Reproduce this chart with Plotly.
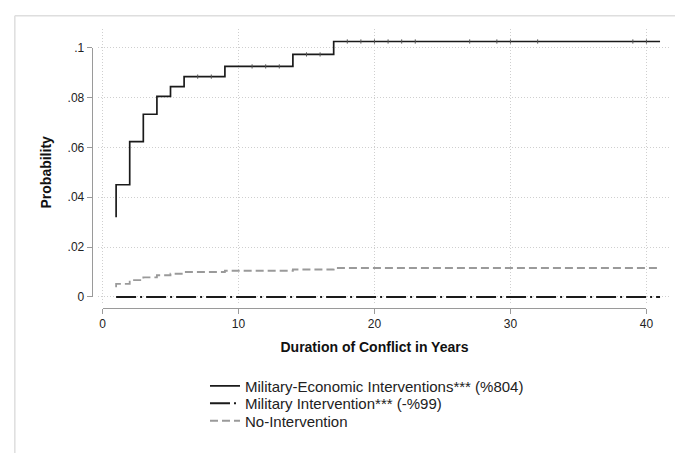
import plotly.graph_objects as go

# ---- data ----
years_me = [1, 1, 2, 2, 3, 4, 5, 6, 9, 14, 17, 41]
prob_me = [0.032, 0.045, 0.0554, 0.0623, 0.0733, 0.0805, 0.0844, 0.0884, 0.0925, 0.0973, 0.1025, 0.1025]

tick_years_me = [7, 8, 11, 12, 13, 15, 16, 18, 19, 20, 21, 22, 23, 27, 29, 30, 32, 39, 40]
tick_probs_me = [0.0884, 0.0884, 0.0925, 0.0925, 0.0925, 0.0973, 0.0973,
                 0.1025, 0.1025, 0.1025, 0.1025, 0.1025, 0.1025, 0.1025,
                 0.1025, 0.1025, 0.1025, 0.1025, 0.1025]

years_mi = [1, 41]
prob_mi = [0, 0]

years_no = [1, 1, 2, 3, 4, 5, 6, 9, 14, 17, 41]
prob_no = [0.0039, 0.0052, 0.0067, 0.0078, 0.0087, 0.0093, 0.0100, 0.0105, 0.0110, 0.0116, 0.0116]

names = ["Military-Economic Interventions*** (%804)",
         "Military Intervention*** (-%99)",
         "No-Intervention"]

x_ticks = [0, 10, 20, 30, 40]
y_ticks = [0, 0.02, 0.04, 0.06, 0.08, 0.1]
y_tick_text = ["0", ".02", ".04", ".06", ".08", ".1"]

FONT = "Liberation Sans, Arial, Helvetica, sans-serif"
W, H = 682, 460

fig = go.Figure()

fig.add_trace(go.Scatter(
    x=years_me, y=prob_me, mode="lines", line_shape="hv",
    line=dict(color="#1a1a1a", width=1.7), name=names[0], legend="legend"))
fig.add_trace(go.Scatter(
    x=years_mi, y=prob_mi, mode="lines",
    line=dict(color="#1a1a1a", width=2, dash="20px,4px,2px,4px"), name=names[1],
    legend="legend2"))
fig.add_trace(go.Scatter(
    x=years_no, y=prob_no, mode="lines", line_shape="hv",
    line=dict(color="#9a9a9a", width=1.8, dash="8px,4px"), name=names[2],
    legend="legend3"))
fig.add_trace(go.Scatter(
    x=tick_years_me, y=tick_probs_me, mode="markers", showlegend=False,
    hoverinfo="skip",
    marker=dict(symbol="line-ns", size=3, line=dict(color="#555555", width=1))))

# invisible trace so the decorative axes are drawn
fig.add_trace(go.Scatter(x=[0], y=[0], xaxis="x2", yaxis="y2", mode="markers",
                         marker=dict(opacity=0), showlegend=False, hoverinfo="skip"))

grid = dict(showgrid=True, gridcolor="#cfcfcf", gridwidth=1, griddash="1px,2px",
            zeroline=False, showline=False, ticks="", showticklabels=False)

legend_common = dict(x=205 / W, xanchor="left", yanchor="middle",
                     font=dict(size=15, color="#222222"), bgcolor="rgba(0,0,0,0)")

fig.update_layout(
    width=W, height=H,
    margin=dict(l=0, r=0, t=0, b=0),
    paper_bgcolor="white", plot_bgcolor="rgba(0,0,0,0)",
    font=dict(family=FONT, color="#222222", size=12),
    xaxis=dict(domain=[96 / W, 678 / W], range=[-0.362, 41.81],
               tickvals=x_ticks, anchor="y", **grid),
    yaxis=dict(domain=[(H - 305) / H, (H - 23) / H], range=[-0.00233, 0.10739],
               tickvals=y_ticks, anchor="x", **grid),
    xaxis2=dict(domain=[101 / W, 653 / W], range=[0, 40], anchor="free",
                position=(H - 310) / H, showgrid=False, zeroline=False,
                showline=True, linecolor="#9a9a9a", linewidth=1,
                ticks="outside", ticklen=5, tickcolor="#9a9a9a", tickwidth=1,
                tickvals=x_ticks, tickfont=dict(size=12, color="#222222"),
                title=dict(text="<b>Duration of Conflict in Years</b>",
                           font=dict(size=14, color="#111111"), standoff=12)),
    yaxis2=dict(domain=[(H - 299) / H, (H - 42) / H], range=[0, 0.1], anchor="free",
                position=90 / W, showgrid=False, zeroline=False,
                showline=True, linecolor="#9a9a9a", linewidth=1,
                ticks="outside", ticklen=5, tickcolor="#9a9a9a", tickwidth=1,
                tickvals=y_ticks, ticktext=y_tick_text,
                tickfont=dict(size=12, color="#222222"),
                title=dict(text="<b>Probability</b>",
                           font=dict(size=14, color="#111111"), standoff=11)),
    legend=dict(y=(H - 391) / H, **legend_common),
    legend2=dict(y=(H - 409) / H, **legend_common),
    legend3=dict(y=(H - 427) / H, **legend_common),
    showlegend=True,
    shapes=[
        dict(type="line", xref="paper", yref="paper",
             x0=12 / W, x1=1.0, y0=(H - 9) / H, y1=(H - 9) / H,
             line=dict(color="#dedede", width=1.5), layer="below"),
        dict(type="line", xref="paper", yref="paper",
             x0=12 / W, x1=12 / W, y0=0, y1=(H - 9) / H,
             line=dict(color="#dedede", width=1.5), layer="below"),
    ],
)

fig.write_html("out.html")
